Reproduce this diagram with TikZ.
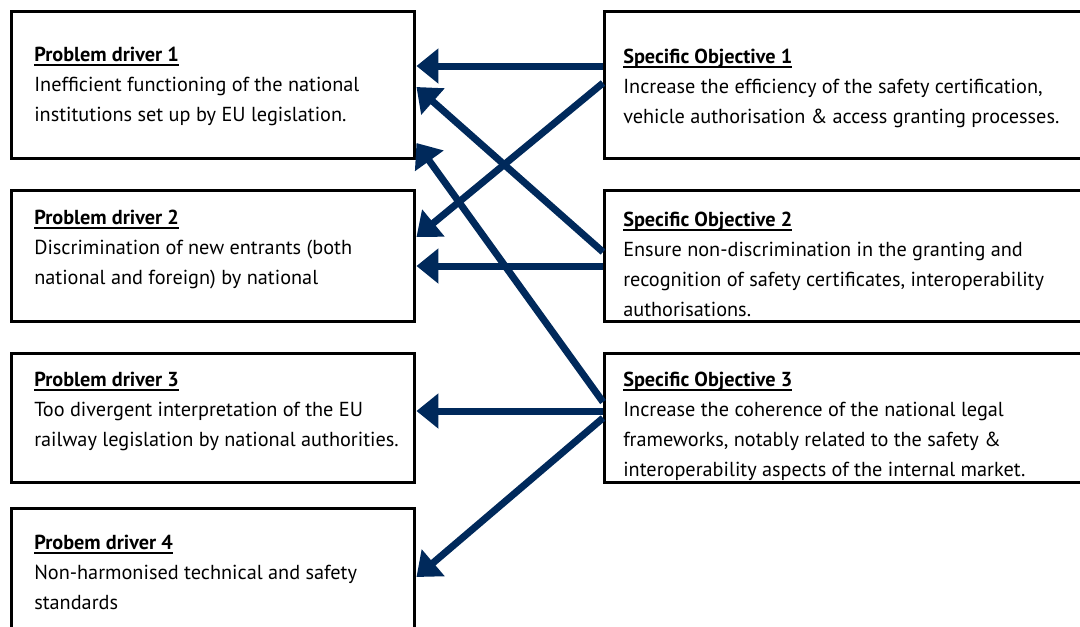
\documentclass[tikz,border=0pt]{standalone}
\usepackage{fontspec}
\setmainfont{PT Sans}
\usepackage{tikz}
\usetikzlibrary{positioning,arrows.meta}
\definecolor{navy}{RGB}{0,41,91}
% bold heading with a fixed underline
\newcommand{\headline}[1]{\setbox0=\hbox{\bfseries #1}\rlap{\rule[-3.2pt]{\wd0}{1.3pt}}\box0}

\begin{document}
\begin{tikzpicture}[
  x=0.75pt, y=-0.75pt,
  box/.style={draw, line width=2.25pt, anchor=north west, inner sep=0pt},
  lbox/.style={box, minimum width=302.6pt},
  rbox/.style={box, minimum width=370pt},
  txt/.style={anchor=north west, align=left, inner sep=0pt, font=\fontsize{15.2}{22.5}\selectfont},
  arrow/.style={-{Triangle[length=16.5pt,width=25.5pt]}, line width=5.25pt, navy}
]
\useasboundingbox (0,0) rectangle (1080,626);

% Problem drivers
\node[lbox, minimum height=110.7pt] (pd1) at (10,9.5) {};
\node[lbox, minimum height=98.3pt] (pd2) at (10,189) {};
\node[lbox, minimum height=96.8pt] (pd3) at (10,352) {};
\node[lbox, minimum height=110pt] (pd4) at (10,507) {};

% Specific objectives
\node[rbox, minimum height=110.7pt] (so1) at (603,9.5) {};
\node[rbox, minimum height=98.3pt] (so2) at (603,189) {};
\node[rbox, minimum height=96.8pt] (so3) at (603,352) {};

% Texts
\node[txt, below right=28.25pt and 18pt of pd1.north west] (pd1t) {\headline{Problem driver 1}\\
  Inefficient functioning of the national\\ institutions set up by EU legislation.};
\node[txt, below right=15.75pt and 18pt of pd2.north west] (pd2t) {\headline{Problem driver 2}\\
  Discrimination of new entrants (both\\ national and foreign) by national};
\node[txt, below right=15pt and 18pt of pd3.north west] (pd3t) {\headline{Problem driver 3}\\
  Too divergent interpretation of the EU\\ railway legislation by national authorities.};
\node[txt, below right=21pt and 18pt of pd4.north west] (pd4t) {\headline{Probem driver 4}\\
  Non-harmonised technical and safety\\ standards};
\node[txt, below right=29.25pt and 15pt of so1.north west] (so1t) {\headline{Specific Objective 1}\\
  Increase the efficiency of the safety certification,\\ vehicle authorisation \& access granting processes.};
\node[txt, below right=17.25pt and 15pt of so2.north west] (so2t) {\headline{Specific Objective 2}\\
  Ensure non-discrimination in the granting and\\ recognition of safety certificates, interoperability\\ authorisations.};
\node[txt, below right=15pt and 15pt of so3.north west] (so3t) {\headline{Specific Objective 3}\\
  Increase the coherence of the national legal\\ frameworks, notably related to the safety \&\\ interoperability aspects of the internal market.};

% Arrows
\draw[arrow] ([shift={(0,56.5)}]so1.north west) -- ([shift={(0,56.5)}]pd1.north east);
\draw[arrow] ([shift={(0,73.5)}]so1.north west) -- ([shift={(0,48)}]pd2.north east);
\draw[arrow] ([shift={(0,63)}]so2.north west) -- ([shift={(0,77.5)}]pd1.north east);
\draw[arrow] ([shift={(0,77)}]so2.north west) -- ([shift={(0,77)}]pd2.north east);
\draw[arrow] ([shift={(0,50)}]so3.north west) -- ([shift={(0,133.5)}]pd1.north east);
\draw[arrow] ([shift={(0,59)}]so3.north west) -- ([shift={(0,59)}]pd3.north east);
\draw[arrow] ([shift={(0,66)}]so3.north west) -- ([shift={(0,70)}]pd4.north east);

\end{tikzpicture}
\end{document}
